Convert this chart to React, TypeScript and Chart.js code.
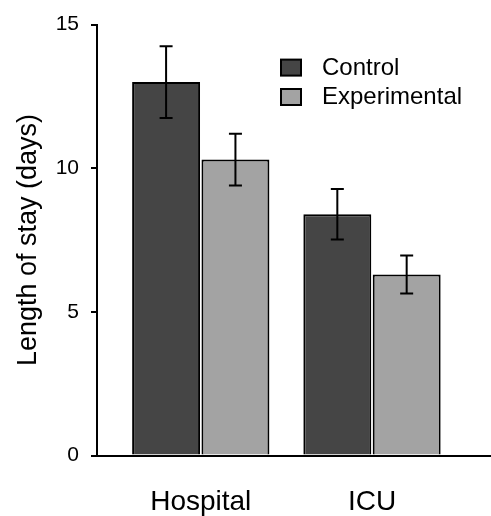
import React, { useEffect, useRef } from 'react';
import { Chart, registerables } from 'chart.js';

Chart.register(...registerables);

// ---- data ----
const categories = ['Hospital', 'ICU'];
const seriesNames = ['Control', 'Experimental'];
const controlValues = [13.0, 8.4];
const experimentalValues = [10.3, 6.3];
const controlErrors = [1.25, 0.88];
const experimentalErrors = [0.9, 0.66];
const yTicks = [0, 5, 10, 15];
const yTitle = 'Length of stay (days)';

const FONT = "'Liberation Sans', Arial, Helvetica, sans-serif";
const colors = ['#454545', '#a3a3a3'];

const errorBarPlugin = {
  id: 'errorBars',
  afterDatasetsDraw(chart: any) {
    const ctx = chart.ctx;
    const y = chart.scales.y;
    chart.data.datasets.forEach((ds: any, di: number) => {
      const meta = chart.getDatasetMeta(di);
      meta.data.forEach((bar: any, i: number) => {
        const v = ds.data[i].y;
        const e = ds.errors[i];
        const top = y.getPixelForValue(v + e);
        const bot = y.getPixelForValue(v - e);
        const cap = 6.5;
        ctx.save();
        ctx.strokeStyle = '#000';
        ctx.lineWidth = 2;
        ctx.beginPath();
        ctx.moveTo(bar.x, top);
        ctx.lineTo(bar.x, bot);
        ctx.moveTo(bar.x - cap, top);
        ctx.lineTo(bar.x + cap, top);
        ctx.moveTo(bar.x - cap, bot);
        ctx.lineTo(bar.x + cap, bot);
        ctx.stroke();
        ctx.restore();
      });
    });
  },
};

const legendPlugin = {
  id: 'customLegend',
  afterDraw(chart: any) {
    const ctx = chart.ctx;
    const area = chart.chartArea;
    const x0 = area.left + 184;
    const y0 = area.top + 35;
    const rowH = 29.4;
    ctx.save();
    chart.data.datasets.forEach((ds: any, i: number) => {
      const yTop = y0 + i * rowH;
      ctx.fillStyle = ds.backgroundColor;
      ctx.fillRect(x0, yTop, 20, 16);
      ctx.strokeStyle = '#000';
      ctx.lineWidth = 2;
      ctx.strokeRect(x0, yTop, 20, 16);
      ctx.fillStyle = '#000';
      ctx.font = `24px ${FONT}`;
      ctx.textBaseline = 'middle';
      ctx.textAlign = 'left';
      ctx.fillText(ds.label, x0 + 41, yTop + 8.5);
    });
    ctx.restore();
  },
};

export default function App() {
  const ref = useRef<HTMLCanvasElement>(null);

  useEffect(() => {
    document.body.style.margin = '0';
    const canvas = ref.current;
    if (!canvas) return;
    const mk = (vals: number[]) => vals.map((v, i) => ({ x: i + 1, y: v }));
    const chart = new Chart(canvas, {
      type: 'bar',
      data: {
        datasets: [
          {
            label: seriesNames[0],
            data: mk(controlValues),
            errors: controlErrors,
            backgroundColor: colors[0],
            borderColor: '#000',
            borderWidth: 2,
            categoryPercentage: 0.81,
            barPercentage: 0.98,
          } as any,
          {
            label: seriesNames[1],
            data: mk(experimentalValues),
            errors: experimentalErrors,
            backgroundColor: colors[1],
            borderColor: '#000',
            borderWidth: 2,
            categoryPercentage: 0.81,
            barPercentage: 0.98,
          } as any,
        ],
      },
      options: {
        animation: false,
        responsive: false,
        devicePixelRatio: 1,
        layout: { padding: { top: 23, left: 0, right: 0, bottom: 0 } },
        plugins: {
          legend: { display: false },
          tooltip: { enabled: false },
        },
        scales: {
          x: {
            type: 'linear',
            min: 0.394,
            max: 2.695,
            offset: false,
            grid: { display: false, drawTicks: false },
            border: { display: true, color: '#000', width: 2 },
            afterBuildTicks: (s: any) => {
              s.ticks = categories.map((_, i) => ({ value: i + 1 }));
            },
            afterFit: (s: any) => {
              s.height = 60.5;
            },
            ticks: {
              autoSkip: false,
              maxRotation: 0,
              padding: 30,
              color: '#000',
              font: { family: FONT, size: 28 },
              callback: (v: any) => categories[Math.round(v) - 1] ?? '',
            },
          },
          y: {
            min: 0,
            max: 15,
            grid: {
              display: true,
              drawOnChartArea: false,
              drawTicks: true,
              tickLength: 6,
              color: '#000',
              lineWidth: 2,
            },
            border: { display: true, color: '#000', width: 2 },
            afterBuildTicks: (s: any) => {
              s.ticks = yTicks.map((v) => ({ value: v }));
            },
            afterFit: (s: any) => {
              s.width = 97;
            },
            ticks: {
              padding: 12,
              color: '#000',
              font: { family: FONT, size: 21 },
            },
            title: {
              display: true,
              text: yTitle,
              color: '#000',
              font: { family: FONT, size: 27 },
              padding: { top: 12, bottom: 0 },
            },
          },
        },
      } as any,
      plugins: [errorBarPlugin, legendPlugin],
    });
    return () => chart.destroy();
  }, []);

  return (
    <div style={{ width: 491, height: 516 }}>
      <canvas ref={ref} width={491} height={516} style={{ display: 'block' }} />
    </div>
  );
}
